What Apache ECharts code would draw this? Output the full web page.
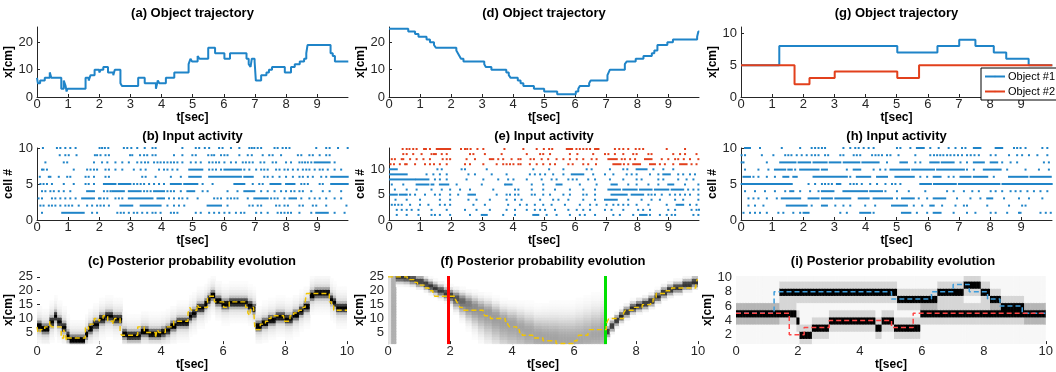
<!DOCTYPE html>
<html>
<head>
<meta charset="utf-8">
<script src="https://cdn.jsdelivr.net/npm/echarts@6/dist/echarts.min.js"></script>
<style>
  html, body { margin: 0; padding: 0; background: #fff; }
  #chart { width: 1056px; height: 372px; }
</style>
</head>
<body>
<div id="chart"></div>
<script>
// ---------- data ----------

// (a) single object trajectory: step times [s] and positions [cm]
const trajA_t = [0,0.03,0.1,0.25,0.41,0.46,0.78,0.86,0.92,0.95,0.98,1.56,1.66,1.72,1.85,2.0,2.05,2.13,2.28,2.45,2.5,2.68,2.73,3.25,3.46,3.82,3.88,3.93,4.14,4.41,4.87,4.93,4.98,5.16,5.22,5.5,5.72,6.02,6.2,6.73,6.8,6.86,6.9,6.99,7.03,7.2,7.37,7.45,7.55,7.96,8.16,8.28,8.44,8.58,8.65,8.69,9.43,9.5,9.57];
const trajA_x = [7,5,6,7,9,7,3,6,4,2,3,7,6,8,10,9,10,11,9,8,10,5,4,7,5,3,6,5,7,9,12,14,13,15,14,18,16,14,16,14,12,11,14,13,6,8,9,10,11,9,11,12,13,14,16,19,16,15,13];

// (d) trajectory going down and back up
const trajD_t = [0,0.62,0.84,0.95,1.21,1.32,1.45,1.51,2.17,2.22,2.27,2.32,2.4,3.07,3.12,3.3,3.78,3.86,3.92,4.15,4.24,4.33,4.67,5.0,5.42,6.02,6.1,6.15,6.45,6.5,7.04,7.08,7.12,7.6,7.66,7.95,8.2,8.47,8.55,8.65,8.97,9.15,9.93,9.97];
const trajD_x = [25,24,23,22,21,20,19,18,17,16,15,14,13,12,11,10,9,8,7,6,5,4,3,2,1,2,3,4,5,6,8,9,10,12,13,14,15,16,17,19,20,21,22,24];

// (g) two objects
const obj1_t = [0,1.23,5.02,6.31,7.01,7.53,8.12,8.52,9.24];
const obj1_x = [5,8,7,8,9,8,7,6,5];
const obj2_t = [0,1.72,2.2,3.01,5.02,5.72];
const obj2_x = [5,2,3,4,3,5];

// (b) spike times per cell (cell 1 first); [a, b] = continuous run of spikes
const b1 = [0.16,[0.81,1.50],1.77,1.93,2.58,2.69,2.79,2.95,3.11,3.22,3.38,3.54,3.71,3.81,3.97,4.30,4.40,4.51,5.10,5.26,5.53,5.69,5.85,6.02,6.18,6.39,6.55,6.66,7.04,7.20,7.41,7.73,7.84,7.95,8.06,8.16,8.43,8.81,[8.97,9.34],9.56,9.88];
const b2 = [0.11,0.21,0.38,0.48,0.59,0.75,0.91,1.02,1.13,1.34,1.61,1.77,1.93,2.04,2.15,2.31,[2.68,3.06],[3.33,3.97],4.19,4.40,4.56,4.73,[5.48,5.91],6.12,6.82,6.93,7.09,7.20,7.68,7.79,7.95,8.06,8.43,8.54,8.86,8.97,9.29,9.94];
const b3 = [0.05,0.16,0.48,0.59,0.75,0.91,1.07,1.24,[1.45,1.83],1.99,2.04,2.15,2.26,2.52,2.63,2.74,[2.95,3.71],[3.87,4.08],4.24,4.40,4.56,4.67,4.83,5.16,5.69,5.80,5.91,6.12,6.23,6.34,6.44,6.77,[6.98,7.41],7.52,7.63,7.73,7.95,[8.11,8.32],8.49,8.75,8.92,9.08,9.29,9.56,9.77];
const b4 = [0.16,0.27,0.43,0.54,0.70,0.86,1.07,[1.61,1.83],2.15,2.26,2.36,[2.42,2.79],[2.95,3.33],3.44,3.54,3.65,[3.76,4.08],4.19,4.30,4.40,4.62,[4.83,5.05],5.32,5.48,6.12,6.44,[6.66,6.98],7.20,7.41,7.63,7.84,8.00,8.16,8.27,8.43,8.54,8.81,9.18,9.40,9.77];
const b5 = [0.11,0.21,0.32,0.48,0.86,1.18,1.56,1.66,1.83,[2.15,2.52],[2.63,3.00],3.11,3.22,3.33,3.44,3.60,3.76,3.92,4.08,[4.30,4.62],[4.73,5.15],5.32,5.64,[6.34,6.66],6.93,7.14,7.25,[7.50,7.82],[8.00,8.27],8.49,8.59,8.70,9.08,9.18,[9.45,9.98]];
const b6 = [0.09,0.38,0.43,0.70,0.97,1.07,1.56,1.66,1.83,2.20,2.31,3.38,3.49,3.81,4.30,4.62,[4.89,5.26],[5.53,6.55],[6.66,6.93],7.30,7.41,7.57,7.79,8.00,8.22,8.43,8.54,8.70,8.86,9.13,9.29,[9.45,9.98]];
const b7 = [0.16,0.21,0.32,1.18,1.61,1.72,1.83,1.93,2.20,2.31,2.52,2.74,3.11,3.33,3.49,3.92,4.08,4.19,4.35,4.51,[4.89,5.31],5.53,5.64,5.75,5.91,[6.02,6.55],6.66,6.82,7.04,7.20,7.30,7.41,7.68,7.79,7.95,8.06,8.22,8.38,8.54,8.65,8.75,8.92,9.08,9.18,9.34,9.56,9.77];
const b8 = [0.27,0.86,0.97,1.83,2.09,2.26,2.52,2.74,2.95,3.22,3.35,3.47,3.57,3.76,3.87,3.97,4.08,4.19,4.30,4.40,4.51,4.67,4.94,5.10,5.26,5.53,5.64,5.75,5.85,6.02,6.23,6.39,6.61,6.71,6.82,6.93,7.18,7.30,7.57,7.68,8.00,8.16,8.43,8.52,8.61,8.70,8.81,[8.92,9.40],9.56];
const b9 = [0.73,0.91,1.02,1.27,1.86,1.93,2.04,2.20,2.31,2.99,3.06,3.31,3.44,3.54,3.71,3.81,4.40,4.67,4.99,5.10,5.50,5.61,5.69,5.91,6.02,6.12,6.50,6.77,6.90,7.25,7.46,7.57,7.84,8.38,8.49,8.75,8.86,9.08,9.29,9.40];
const b10 = [0.19,0.64,0.75,0.91,1.07,1.24,2.01,2.09,2.18,2.29,2.79,2.90,3.03,3.22,3.46,3.71,3.81,4.67,5.10,5.21,5.39,5.53,5.85,5.96,6.23,6.50,6.82,6.90,6.98,7.09,7.20,7.63,7.73,7.89,8.00,8.11,8.97,9.29,9.40,9.67,9.98];

// (e) cells 1-10 (object cells) and 11-14 (extra cells, red)
const e1 = [0.25,0.57,0.95,1.37,1.48,1.64,1.97,2.61,[2.99,3.15],3.68,4.06,[4.65,4.81],5.08,5.40,5.83,6.15,6.31,6.64,7.23,7.44,7.87,[8.09,8.30],8.41,8.73,8.95,9.11,9.22,9.81,9.97];
const e2 = [0.25,0.41,0.57,0.73,0.95,1.37,1.86,2.45,2.82,3.25,3.79,4.06,4.44,4.70,4.87,5.03,5.35,5.78,6.05,6.26,6.48,6.96,7.17,7.55,8.03,8.19,8.41,9.00,9.22,9.75,9.91,9.99];
const e3 = [0.09,0.19,0.30,0.41,0.68,1.00,1.27,1.64,1.80,1.97,2.72,3.09,3.84,4.22,4.44,4.70,4.97,5.24,5.67,6.15,6.48,6.69,7.01,7.23,7.39,7.55,7.71,7.98,8.36,8.95,[9.27,9.48],9.70,9.91];
const e4 = [0.21,0.57,1.00,1.64,1.97,2.56,2.82,3.25,3.79,4.06,4.27,4.87,5.29,5.46,5.78,6.26,6.64,[6.96,7.34],7.71,8.14,8.46,8.73,9.22,9.48,9.97];
const e5 = [[0.05,0.25],[0.35,0.52],0.57,0.68,0.84,1.16,1.48,1.64,1.97,2.23,[2.56,2.77],3.47,3.79,3.90,4.06,4.17,4.60,4.70,4.97,5.19,5.62,5.83,6.26,6.37,6.64,[7.17,7.66],[7.82,8.19],8.36,8.46,8.57,8.79,9.05,9.22,9.38,9.54,9.70,9.97];
const e6 = [0.19,0.57,0.89,1.37,1.70,1.97,2.29,2.61,3.36,4.06,4.17,4.60,4.97,5.35,5.83,6.26,6.64,[7.07,7.44],[7.55,7.98],[8.09,8.46],[8.57,9.00],[9.11,9.48],9.64,9.81,9.97];
const e7 = [0.09,0.46,[0.89,1.27],[1.37,1.43],[1.64,1.91],2.18,2.99,3.74,[3.79,3.95],4.60,4.97,[5.40,5.56],6.15,6.69,[7.17,7.34],7.71,7.98,8.36,8.68,[9.00,9.16],9.54,9.97];
const e8 = [[0.03,0.84],[0.89,1.27],1.48,1.64,1.86,2.50,3.04,3.52,3.84,4.01,4.44,4.92,5.24,5.40,5.78,5.92,6.05,6.42,6.64,7.12,7.55,7.98,8.14,8.68,8.84,9.32,9.59,9.81];
const e9 = [[0.03,0.57],1.21,1.43,1.64,1.86,2.56,2.77,3.31,3.79,4.54,4.70,4.87,5.03,5.29,5.62,[5.89,6.26],6.58,6.96,7.23,7.66,7.82,7.98,8.41,8.68,[8.84,9.05],9.32,9.48,9.70,9.86];
const e10 = [[0.03,0.25],1.56,1.70,2.34,2.45,3.15,4.65,5.16,5.62,6.37,6.53,7.12,7.55,7.68,[7.98,8.30],8.52,8.84,9.16];
const e11 = [0.05,0.16,0.35,0.52,0.57,0.84,1.16,1.32,1.45,1.64,1.86,2.45,2.61,3.04,3.47,3.68,3.79,3.90,4.01,4.17,4.24,4.54,4.76,4.97,5.19,5.35,5.78,5.92,6.26,6.42,6.67,[7.23,7.46],7.57,7.71,[7.87,8.09],[8.41,8.57],8.73,8.89,9.16,[9.38,9.59],9.75,9.91];
const e12 = [0.09,0.19,0.41,0.46,0.68,0.89,1.11,1.32,1.73,1.86,1.97,2.50,2.77,[3.25,3.36],3.52,3.68,3.95,4.17,4.24,4.56,4.67,4.92,5.13,5.40,5.62,5.83,6.05,6.26,6.53,6.69,[7.07,7.34],7.50,7.60,7.77,7.93,[8.25,8.46],8.79,9.00,9.22,9.32,9.50,9.70,9.97];
const e13 = [0.46,0.57,0.78,1.05,1.37,1.45,1.51,1.70,1.86,2.61,2.72,3.09,3.63,4.44,4.87,4.97,5.19,5.83,6.07,6.58,6.96,7.07,7.28,7.55,7.87,7.98,8.36,8.46,9.16,9.38,9.54,9.91];
const e14 = [0.44,0.57,0.66,0.78,0.89,1.13,1.19,1.32,[1.54,1.97],2.32,2.45,2.52,2.63,2.85,3.04,3.72,4.33,4.76,4.99,5.16,5.26,[5.73,5.90],6.04,6.15,6.26,6.37,6.48,[6.64,6.75],7.28,7.42,7.55,7.71,7.95,8.07,8.19,8.95,9.54];

// (h) two-object input activity
const h1 = [0.08,0.29,0.45,0.61,0.83,1.20,1.36,1.68,1.90,[2.01,2.17],3.19,3.40,[3.83,4.15],4.26,[5.17,5.44],5.65,5.98,[6.19,6.41],6.83,7.26,7.53,8.02,8.18,8.55,8.93,8.98,9.62,9.79,9.95];
const h2 = [0.24,0.45,0.72,[1.47,2.11],2.27,[2.60,2.76],3.03,3.29,3.51,3.99,4.31,[4.85,5.33],5.55,5.82,[6.08,6.19],6.46,6.89,7.16,7.26,7.91,8.61,9.03,9.14];
const h3 = [0.24,0.40,0.56,0.83,1.15,[1.31,1.90],[2.17,2.49],[2.60,2.92],[3.03,3.51],[3.78,4.10],[4.26,4.85],5.01,[5.17,5.55],5.71,5.98,[6.19,6.56],6.94,7.37,7.69,[7.91,8.07],8.45,8.93,9.25,9.68];
const h4 = [0.13,0.45,0.77,1.09,1.42,[1.58,1.68],1.90,2.22,2.49,[2.60,2.97],[3.29,4.05],[4.15,4.53],4.64,5.01,5.39,5.92,6.62,6.83,7.16,7.43,7.64,8.02,8.18,8.39,8.66,8.82,8.98,9.20,9.41,9.62,9.84];
const h5 = [[0.02,1.63],2.17,2.38,2.60,2.70,2.81,2.92,[3.08,3.19],3.51,3.62,3.72,3.88,4.15,4.37,4.64,4.85,4.96,5.12,[5.76,6.10],[6.20,6.90],[7.00,8.30],[8.40,9.98]];
const h6 = [[0.08,0.29],0.40,0.56,0.83,1.09,[1.36,1.52],[1.68,1.79],[2.33,3.40],3.51,[3.72,4.15],[4.37,4.69],[4.96,5.55],5.76,5.98,[6.19,6.41],6.67,6.83,[7.05,7.37],[7.48,7.91],8.12,[8.61,9.20],[9.30,9.95]];
const h7 = [0.13,0.56,0.88,[1.09,1.42],[1.52,1.63],1.74,[1.90,2.49],[2.60,2.76],3.40,[3.62,3.83],4.26,4.47,4.64,[4.80,5.40],[5.50,6.20],[6.30,7.16],7.26,7.48,[7.80,8.34],8.55,9.14,9.57,9.89];
const h8 = [0.02,0.08,0.83,[1.26,1.75],[1.85,2.22],[2.33,2.75],[2.85,3.19],[3.30,3.80],[3.90,4.42],4.69,[5.12,5.33],5.60,5.76,[6.08,6.35],[6.45,6.83],7.05,7.26,[7.48,7.80],[8.02,8.23],8.39,8.66,8.87,9.73,9.89];
const h9 = [0.02,0.13,0.67,1.04,1.42,1.52,1.62,1.79,1.95,2.11,2.27,2.38,2.49,2.70,2.80,3.19,3.29,3.62,3.72,3.83,4.21,4.32,4.42,4.53,4.69,4.80,5.06,5.60,6.08,6.20,6.30,6.40,6.50,6.62,6.73,6.85,6.97,7.10,7.26,7.38,7.50,7.64,8.02,8.18,8.61,8.87,9.03,9.25,9.52,9.84];
const h10 = [[0.13,0.29],0.61,1.31,1.90,2.27,2.38,2.49,2.60,2.70,3.29,3.51,3.67,3.78,3.94,4.10,4.26,5.01,5.12,5.44,[5.65,5.87],6.08,6.35,6.67,6.89,7.10,7.21,[7.48,7.69],[8.18,8.39],8.77,8.87,8.98,9.14,9.68,9.84];

// (c) ridge of the posterior: step times and centre [cm]
const postC_t = [0,0.15,0.4,0.53,0.65,0.8,0.96,1.05,1.55,1.65,1.8,2.0,2.2,2.45,2.75,2.9,3.35,3.6,4.0,4.15,4.3,4.5,4.9,5.0,5.15,5.4,5.5,5.6,5.75,5.95,6.2,6.8,6.95,7.05,7.25,7.45,7.7,8.0,8.25,8.45,8.6,8.8,8.95,9.45,9.55,9.65];
const postC_x = [7.5,6.5,9,11,9,7,4,2.5,4.5,6.5,8,10,11,10,4.7,4,5.5,4.7,5.2,6,7.5,8.8,11,12,14,15.5,17,18.5,16.5,15.3,15.9,14.8,13.7,7.5,8.6,9.7,10.8,10,11.4,12.9,14.4,18.5,19.3,17,15.9,14];

// (f) posterior: centre, spread above / below [cm] and darkness
const postF_t = [0,0.1,0.25,0.5,0.7,0.9,1.14,1.3,1.46,1.62,1.78,1.94,2.1,2.3,2.5,2.7,2.9,3.1,3.35,3.6,3.85,4.15,4.4,4.7,4.95,5.2,5.5,5.75,6.05,6.3,6.55,6.83,6.98,7.15,7.3,7.45,7.6,7.8,8.0,8.2,8.4,8.6,8.8,9.0,9.2,9.5,9.8];
const postF_x = [13,13,25,24.8,24.3,23.5,22.6,21.8,21,20.2,19.3,18.5,17.5,16.5,15.5,14.5,13.5,12.5,11,9.5,8.3,7,5.6,4.1,3.5,3,2.6,2.4,2.8,3.5,4.3,5.2,5.5,7.5,9.5,11,12.5,14,14.8,15.5,16.5,18,19.5,20.5,21.3,22.4,23.3];
const postF_up = [60,60,1.6,1.6,1.6,1.6,1.6,1.6,1.6,1.6,1.6,1.8,2.1,2.4,2.7,3,3.2,3.5,3.8,4,4.5,5,5.5,6,6.5,7,7.3,7.5,7.8,8,8,8,1.5,1.5,1.5,1.5,1.5,1.5,1.5,1.5,1.5,1.5,1.5,1.5,1.5,1.5,1.5];
const postF_down = [60,60,1.6,1.6,1.6,1.6,1.6,1.6,1.6,1.7,1.8,2.2,3,4,5,6,7,8,8.5,9,9,9,8.5,8,7.5,7,7,7,7,7,7,7,1.5,1.5,1.5,1.5,1.5,1.5,1.5,1.5,1.5,1.5,1.5,1.5,1.5,1.5,1.5];
const postF_peak = [0.12,0.32,0.8,0.8,0.8,0.8,0.8,0.8,0.8,0.8,0.8,0.8,0.7,0.6,0.52,0.45,0.42,0.4,0.39,0.38,0.37,0.36,0.36,0.36,0.36,0.36,0.35,0.35,0.345,0.34,0.35,0.36,0.85,0.85,0.85,0.85,0.85,0.85,0.85,0.85,0.85,0.85,0.85,0.85,0.85,0.85,0.85];
const markF_t = [1.94, 7.0];
const markF_color = ['#ff0000', '#00e000'];

// (i) two posterior ridges
const postI1_t = [0,1.4,5.2,6.5,7.35,7.9,8.2,8.55,9.3];
const postI1_x = [5,8,7,8,9,8,7,6,5];
const postI2_t = [0,1.95,2.05,2.45,3.0,4.5,4.7,5.1,5.95];
const postI2_x = [5,4,2,3,4,3,4,3,5];

// ---------- helpers ----------
const FONT = '"Liberation Sans", Arial, Helvetica, sans-serif';
const INK = '#262626';
const BLUE = '#1f84c8';
const RED = '#e2401c';
const YELLOW = '#f2c500';
const CELL = 0.05;   // heat map column width [s]

function stepPoints(ts, xs) {
  const pts = ts.map((t, i) => [t, xs[i]]);
  pts.push([10, xs[xs.length - 1]]);
  return pts;
}
function holdAt(ts, t) {
  let k = 0;
  for (let i = 0; i < ts.length; i++) if (ts[i] <= t) k = i;
  return k;
}
function gauss(d, s) { return Math.exp(-(d / s) * (d / s)); }

function heatCells(rows, fn) {
  const out = [];
  for (let k = 0; k * CELL < 10 - 1e-9; k++) {
    const t0 = k * CELL;
    rows.forEach(r => {
      const v = fn(t0 + CELL / 2, r);
      if (v > 0.01) out.push([t0, r, Math.min(1, v)]);
    });
  }
  return out;
}
function range(a, b) { const r = []; for (let i = a; i <= b; i++) r.push(i); return r; }

function renderCell(params, api) {
  const t = api.value(0), r = api.value(1), v = api.value(2);
  const p0 = api.coord([t, r + 0.5]);
  const p1 = api.coord([t + CELL, r - 0.5]);
  const cs = params.coordSys;
  const shape = echarts.graphic.clipRectByRect(
    { x: p0[0], y: p0[1], width: p1[0] - p0[0] + 0.6, height: p1[1] - p0[1] + 0.6 },
    { x: cs.x, y: cs.y, width: cs.width, height: cs.height });
  if (!shape) return;
  const g = Math.round(255 * (1 - v));
  return { type: 'rect', shape: shape, style: { fill: 'rgb(' + g + ',' + g + ',' + g + ')' } };
}
function renderSpike(params, api) {
  const p0 = api.coord([api.value(0), api.value(2)]);
  const p1 = api.coord([api.value(1), api.value(2)]);
  return { type: 'rect', shape: { x: p0[0] - 1, y: p0[1] - 1, width: p1[0] - p0[0] + 2, height: 2 },
           style: { fill: api.visual('color') } };
}

// ---------- layout ----------
const grids = [], xAxes = [], yAxes = [], titles = [], series = [];

function panel(box, title, titleTop, xo, yo) {
  const gi = grids.length;
  grids.push({ left: box[0], top: box[1], width: box[2], height: box[3] });
  titles.push({ text: title, left: box[0] + box[2] / 2, top: titleTop, textAlign: 'center', padding: 0,
    textStyle: { fontSize: 13, fontWeight: 'bold', color: '#000', fontFamily: FONT } });
  const base = (o, isX) => ({
    gridIndex: gi, type: 'value', min: o.min, max: o.max,
    name: o.name, nameLocation: 'middle', nameGap: o.gap,
    nameTextStyle: { fontWeight: 'bold', fontSize: 12, color: '#000', fontFamily: FONT },
    axisLine: { show: o.line !== false, lineStyle: { color: INK, width: 1 } },
    axisTick: { show: true, inside: true, length: 3, customValues: o.ticks, lineStyle: { color: INK } },
    axisLabel: { customValues: o.ticks, color: INK, fontSize: 13, fontFamily: FONT, margin: isX ? 1 : 4 },
    splitLine: { show: false }
  });
  xAxes.push(base(xo, true));
  yAxes.push(base(yo, false));
  return gi;
}

const secTicks = range(0, 9);
const evenTicks = [0, 2, 4, 6, 8, 10];

// row 1: trajectories
const gA = panel([37, 27, 311, 70], '(a) Object trajectory', 7,
  { min: 0, max: 9.99, ticks: secTicks, name: 't[sec]', gap: 12 },
  { min: 0, max: 25.6, ticks: [0, 10, 20], name: 'x[cm]', gap: 14 });
const gD = panel([389, 27, 310, 70], '(d) Object trajectory', 7,
  { min: 0, max: 9.99, ticks: secTicks, name: 't[sec]', gap: 12 },
  { min: 0, max: 25.6, ticks: [0, 10, 20], name: 'x[cm]', gap: 14 });
const gG = panel([741, 27, 311, 70], '(g) Object trajectory', 7,
  { min: 0, max: 9.99, ticks: secTicks, name: 't[sec]', gap: 12 },
  { min: 0, max: 11, ticks: [0, 5, 10], name: 'x[cm]', gap: 14 });

// row 2: input activity
const gB = panel([37, 148, 311, 72], '(b) Input activity', 130,
  { min: 0, max: 9.99, ticks: secTicks, name: 't[sec]', gap: 12 },
  { min: 0, max: 10, ticks: [0, 5, 10], name: 'cell #', gap: 14 });
const gE = panel([389, 148, 310, 72], '(e) Input activity', 130,
  { min: 0, max: 9.99, ticks: secTicks, name: 't[sec]', gap: 12 },
  { min: 0, max: 14.2, ticks: [0, 5, 10], name: 'cell #', gap: 14 });
const gH = panel([741, 148, 311, 72], '(h) Input activity', 130,
  { min: 0, max: 9.99, ticks: secTicks, name: 't[sec]', gap: 12 },
  { min: 0, max: 10, ticks: [0, 5, 10], name: 'cell #', gap: 14 });

// row 3: posterior
const gC = panel([37, 276, 310, 72], '(c) Posterior probability evolution', 255,
  { min: 0, max: 10, ticks: evenTicks, name: 't[sec]', gap: 10, line: false },
  { min: 0.8, max: 25.3, ticks: [5, 10, 15, 20, 25], name: 'x[cm]', gap: 14, line: false });
const gF = panel([388, 276, 310, 72], '(f) Posterior probability evolution', 255,
  { min: 0, max: 10, ticks: evenTicks, name: 't[sec]', gap: 10, line: false },
  { min: 0.8, max: 25.3, ticks: [5, 10, 15, 20, 25], name: 'x[cm]', gap: 14, line: false });
const gI = panel([736, 276, 314, 72], '(i) Posterior probability evolution', 255,
  { min: 0, max: 10, ticks: evenTicks, name: 't[sec]', gap: 10, line: false },
  { min: 0.7, max: 10.2, ticks: [2, 4, 6, 8, 10], name: 'x[cm]', gap: 14, line: false });

// ---------- series ----------
function stepLine(gi, name, ts, xs, color, width, dashed) {
  return { type: 'line', name: name, xAxisIndex: gi, yAxisIndex: gi, data: stepPoints(ts, xs),
    step: 'end', symbol: 'none', silent: true, z: 5,
    lineStyle: { color: color, width: width, type: dashed ? [5, 3] : 'solid' }, itemStyle: { color: color } };
}
function spikeSeries(gi, rows, firstCell, color) {
  const data = [];
  rows.forEach((list, k) => list.forEach(s => {
    const a = Array.isArray(s) ? s : [s, s];
    data.push([a[0], a[1], firstCell + k]);
  }));
  return { type: 'custom', xAxisIndex: gi, yAxisIndex: gi, data: data, encode: { x: [0, 1], y: 2 },
    renderItem: renderSpike, itemStyle: { color: color }, progressive: 0, silent: true };
}
function heatSeries(gi, data) {
  return { type: 'custom', xAxisIndex: gi, yAxisIndex: gi, data: data, encode: { x: 0, y: 1 },
    renderItem: renderCell, progressive: 0, silent: true, z: 1 };
}

series.push(stepLine(gA, 'trajA', trajA_t, trajA_x, BLUE, 2));
series.push(stepLine(gD, 'trajD', trajD_t, trajD_x, BLUE, 2));
series.push(stepLine(gG, 'Object #1', obj1_t, obj1_x, BLUE, 2));
series.push(stepLine(gG, 'Object #2', obj2_t, obj2_x, RED, 2));

series.push(spikeSeries(gB, [b1, b2, b3, b4, b5, b6, b7, b8, b9, b10], 1, BLUE));
series.push(spikeSeries(gE, [e1, e2, e3, e4, e5, e6, e7, e8, e9, e10], 1, BLUE));
series.push(spikeSeries(gE, [e11, e12, e13, e14], 11, RED));
series.push(spikeSeries(gH, [h1, h2, h3, h4, h5, h6, h7, h8, h9, h10], 1, BLUE));

// posterior images: dark ridge with a soft grey halo
series.push(heatSeries(gC, heatCells(range(1, 25), (t, r) => {
  const d = r - postC_x[holdAt(postC_t, t)];
  return gauss(d, 1.4) + 0.16 * gauss(d, 4.5);
})));
series.push(heatSeries(gF, heatCells(range(1, 25), (t, r) => {
  const k = holdAt(postF_t, t);
  const d = r - postF_x[k];
  return postF_peak[k] * gauss(d, d >= 0 ? postF_up[k] : postF_down[k]);
})));
series.push(heatSeries(gI, heatCells(range(1, 10), (t, r) => {
  const k1 = holdAt(postI1_t, t), k2 = holdAt(postI2_t, t);
  return 0.03 + gauss(r - postI1_x[k1], 0.7) + gauss(r - postI2_x[k2], 0.7);
})));

series.push(stepLine(gC, 'trueC', trajA_t, trajA_x, YELLOW, 1.4, true));
const fLine = stepLine(gF, 'trueF', trajD_t, trajD_x, YELLOW, 1.4, true);
fLine.markLine = {
  silent: true, symbol: 'none', label: { show: false }, animation: false,
  data: markF_t.map((t, i) => ({ xAxis: t, lineStyle: { color: markF_color[i], width: 3, type: 'solid' } }))
};
series.push(fLine);
series.push(stepLine(gI, 'trueI1', obj1_t, obj1_x, '#3d9ddc', 1.5, true));
series.push(stepLine(gI, 'trueI2', obj2_t, obj2_x, '#ff4545', 1.5, true));

const chart = echarts.init(document.getElementById('chart'), null, { renderer: 'canvas' });
chart.setOption({
  animation: false,
  backgroundColor: '#fff',
  textStyle: { fontFamily: FONT },
  title: titles,
  grid: grids,
  xAxis: xAxes,
  yAxis: yAxes,
  legend: {
    data: ['Object #1', 'Object #2'], orient: 'vertical', left: 981, top: 68,
    itemWidth: 20, itemHeight: 2, itemGap: 4, padding: [3, 4, 3, 3],
    borderColor: '#000', borderWidth: 1, backgroundColor: '#fff',
    textStyle: { fontSize: 11, color: '#000', fontFamily: FONT, padding: [0, 0, 0, -2] }
  },
  series: series
});
</script>
</body>
</html>
